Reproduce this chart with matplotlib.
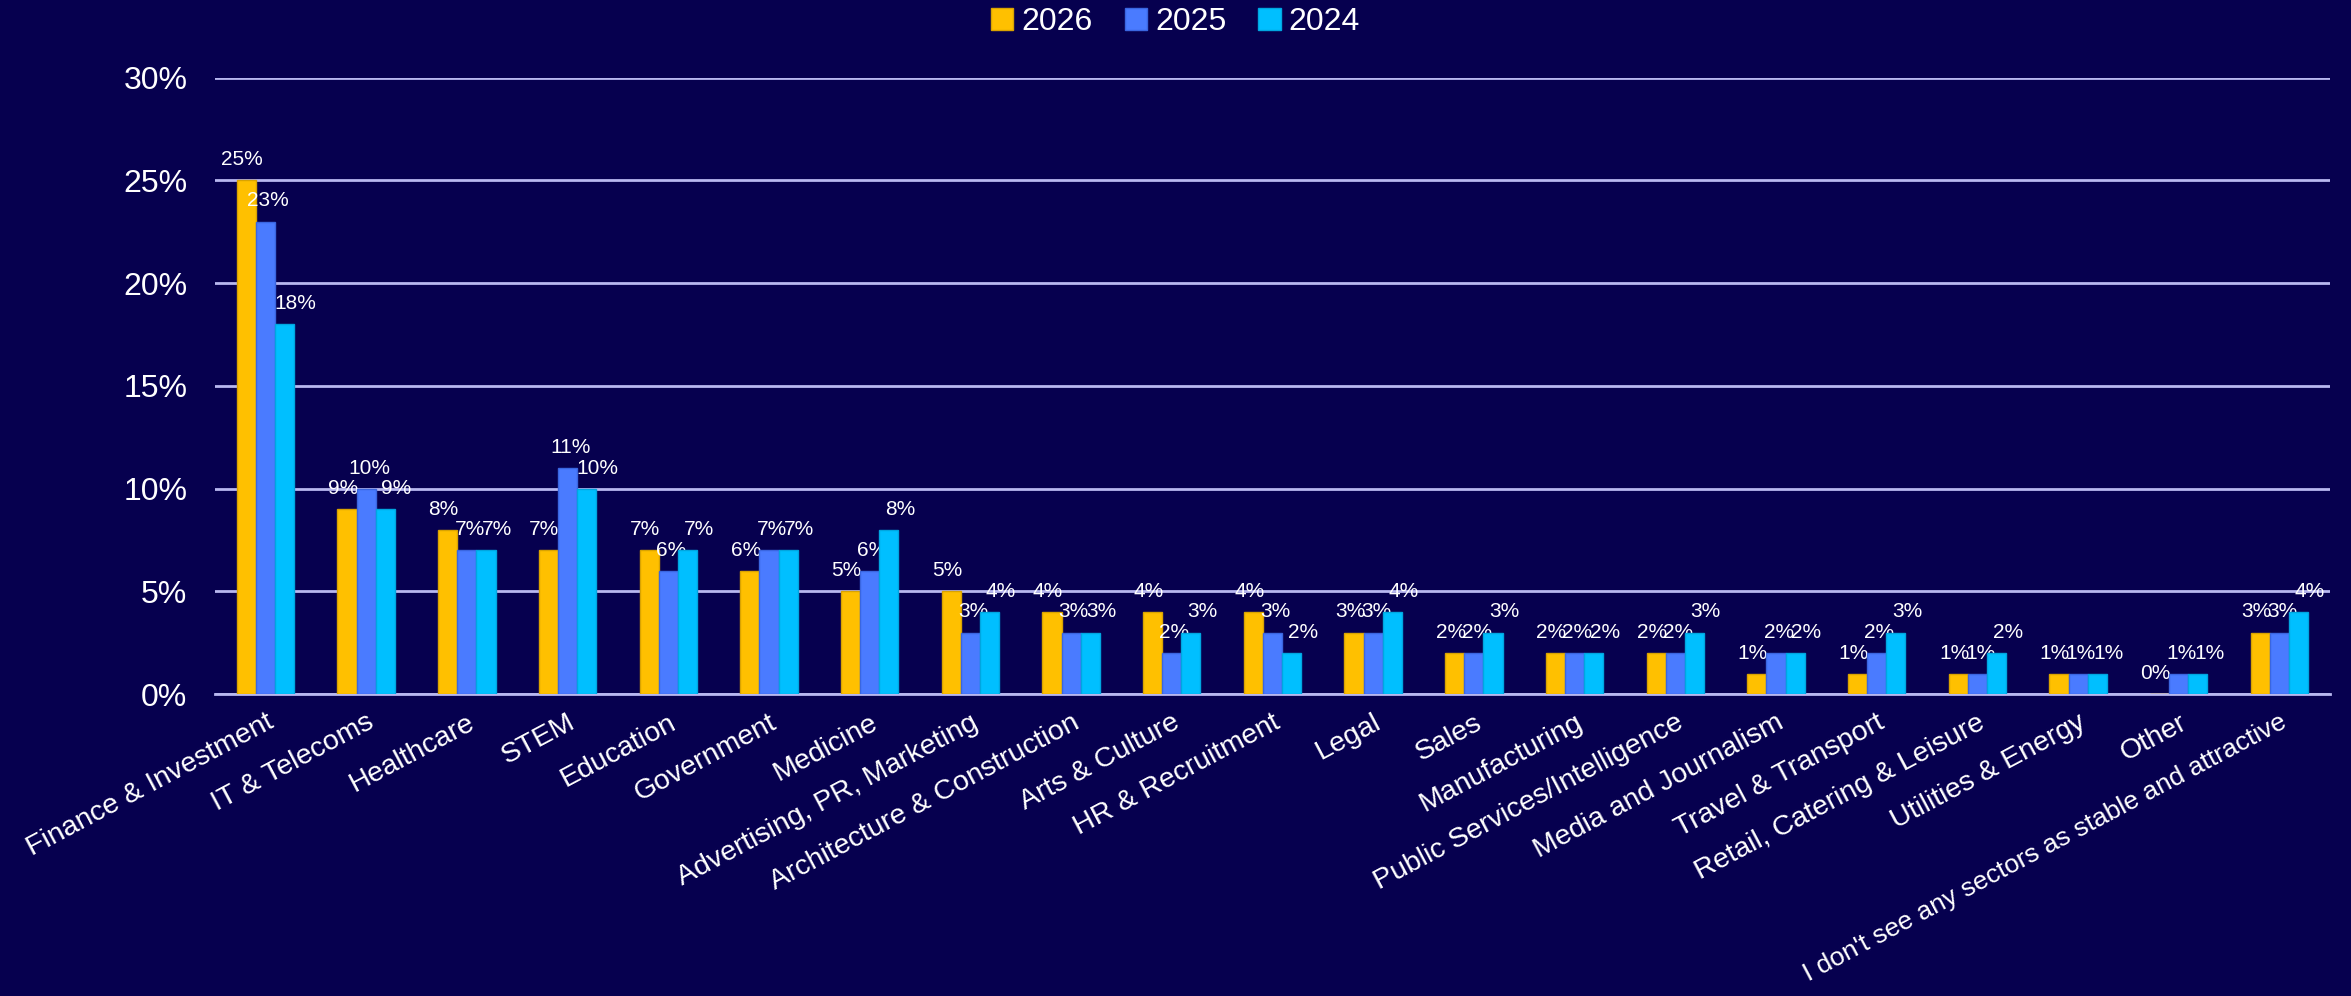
import numpy as np
import matplotlib.pyplot as plt

plt.rcParams['font.family'] = ['Liberation Sans', 'DejaVu Sans']

# Data
sectors = ["Finance & Investment", "IT & Telecoms", "Healthcare", "STEM", "Education",
           "Government", "Medicine", "Advertising, PR, Marketing", "Architecture & Construction",
           "Arts & Culture", "HR & Recruitment", "Legal", "Sales", "Manufacturing",
           "Public Services/Intelligence", "Media and Journalism", "Travel & Transport",
           "Retail, Catering & Leisure", "Utilities & Energy", "Other",
           "I don't see any sectors as stable and attractive"]
years = ["2026", "2025", "2024"]
vals_2026 = [25, 9, 8, 7, 7, 6, 5, 5, 4, 4, 4, 3, 2, 2, 2, 1, 1, 1, 1, 0, 3]
vals_2025 = [23, 10, 7, 11, 6, 7, 6, 3, 3, 2, 3, 3, 2, 2, 2, 2, 2, 1, 1, 1, 3]
vals_2024 = [18, 9, 7, 10, 7, 7, 8, 4, 3, 3, 2, 4, 3, 2, 3, 2, 3, 2, 1, 1, 4]
yticks = [0, 5, 10, 15, 20, 25, 30]

colors = ["#FFC000", "#4A7BFF", "#00BFFF"]
edges = ["#D9A300", "#3A66E0", "#00A6E0"]
label_dx = [-3, 2, 8]  # points, rough spread of the value labels
bg = "#06004F"

fig = plt.figure(figsize=(23.51, 9.96), dpi=100, facecolor=bg)
ax = fig.add_axes([0.0915, 0.303, 0.8995, 0.619])
ax.set_facecolor(bg)

x = np.arange(len(sectors))
w = 0.19
series = [vals_2026, vals_2025, vals_2024]
for i, (vals, yr, c) in enumerate(zip(series, years, colors)):
    pos = x + (i - 1) * w
    ax.bar(pos, vals, width=w, color=c, label=yr, zorder=3,
           edgecolor=edges[i], linewidth=1)
    for px, v in zip(pos, vals):
        ax.annotate(f"{v}%", (px, v), xytext=(label_dx[i], 8), textcoords="offset points",
                    ha="center", va="bottom", color="white", fontsize=15)

ax.set_xlim(-0.5, len(sectors) - 0.5)
ax.set_ylim(0, 30)
ax.set_yticks(yticks)
ax.set_yticklabels([f"{t}%" for t in yticks], color="white", fontsize=23)
ax.yaxis.grid(True, color="#B8B8F0", linewidth=2, zorder=0)
ax.set_axisbelow(True)
ax.tick_params(axis="y", length=0, pad=20)
ax.tick_params(axis="x", length=0, pad=11)
ax.set_xticks(x)
ax.set_xticklabels(sectors, rotation=28, ha="right", rotation_mode="anchor",
                   color="white", fontsize=20.5)
# the last, long label is a touch smaller so it stays inside the figure
ax.get_xticklabels()[-1].set_fontsize(19)
for s in ["top", "right", "left"]:
    ax.spines[s].set_visible(False)
ax.spines["bottom"].set_color("#B8B8F0")
ax.spines["bottom"].set_linewidth(2)

fig.legend(loc="center", bbox_to_anchor=(0.5, 1 - 22 / 996), ncol=3, frameon=False,
           fontsize=23, handlelength=0.7, handleheight=0.7, handletextpad=0.25,
           columnspacing=1.0, labelcolor="white")

fig.savefig("out.png", dpi=100, facecolor=bg)
